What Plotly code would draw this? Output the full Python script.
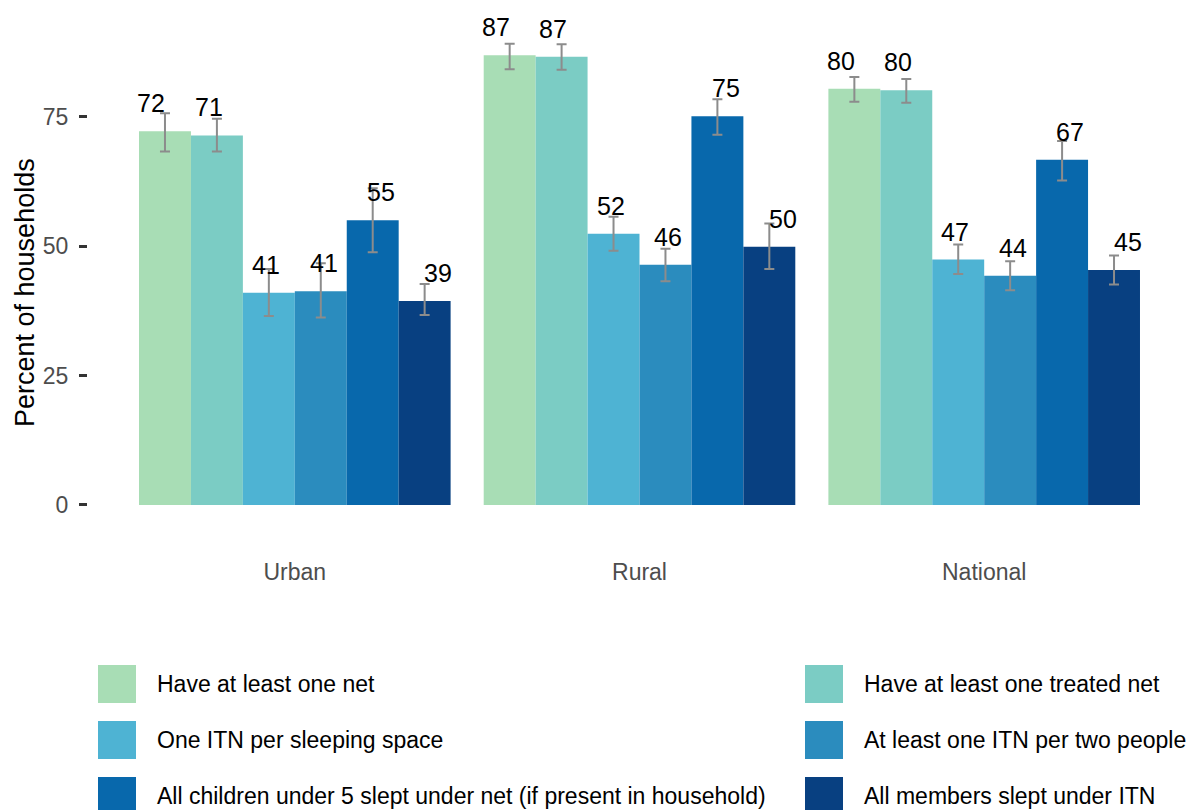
import plotly.graph_objects as go

# ---------------- data ----------------
groups = ["Urban", "Rural", "National"]
series = [
    "Have at least one net",
    "Have at least one treated net",
    "One ITN per sleeping space",
    "At least one ITN per two people",
    "All children under 5 slept under net (if present in household)",
    "All members slept under ITN",
]
colors = ["#A8DDB5", "#7BCCC4", "#4EB3D3", "#2B8CBE", "#0868AC", "#084081"]

# values per series: [Urban, Rural, National]
values = [
    [72.2, 86.9, 80.4],
    [71.4, 86.6, 80.1],
    [41.0, 52.4, 47.4],
    [41.3, 46.4, 44.3],
    [55.0, 75.1, 66.7],
    [39.4, 49.9, 45.4],
]
ci_low = [
    [68.3, 84.2, 77.9],
    [68.3, 84.1, 77.7],
    [36.5, 49.1, 44.6],
    [36.2, 43.2, 41.5],
    [48.8, 71.5, 62.7],
    [36.7, 45.6, 42.6],
]
ci_high = [
    [75.7, 89.1, 82.7],
    [74.6, 89.0, 82.3],
    [45.6, 55.7, 50.3],
    [46.7, 49.5, 47.1],
    [61.2, 78.4, 70.3],
    [42.7, 54.4, 48.2],
]
y_ticks = [0, 25, 50, 75]
y_title = "Percent of households"

# ---------------- layout constants ----------------
OFF = 8  # page body margin in the browser
W, H = 1199 - OFF, 810 - OFF
ML, MR, MT, MB = 80, 8, 13, 282
PW = W - ML - MR
PH = H - MT - MB
FONT = "Liberation Sans, Arial, sans-serif"
n = len(series)
xpos = list(range(len(groups)))

fig = go.Figure()
for i, name in enumerate(series):
    fig.add_trace(go.Bar(
        x=xpos, y=values[i], name=name,
        marker=dict(color=colors[i], line=dict(width=0)),
        error_y=dict(
            type="data", symmetric=False,
            array=[h - v for h, v in zip(ci_high[i], values[i])],
            arrayminus=[v - l for v, l in zip(values[i], ci_low[i])],
            color="#8C8C8C", thickness=2, width=5,
        ),
        showlegend=False,
    ))

# data labels (dodged over full category width, as in source)
annotations = []
for i in range(n):
    for g in xpos:
        annotations.append(dict(
            x=g + (i - (n - 1) / 2) / n, y=values[i][g],
            xref="x", yref="y", text=str(round(values[i][g])),
            showarrow=False, yanchor="bottom", yshift=12,
            font=dict(family=FONT, size=25, color="#000000"),
        ))

def px_to_paper_x(px):
    return (px - OFF - ML) / PW

def px_to_paper_y(py):
    return (H - MB - (py - OFF)) / PH

# y-axis title
annotations.append(dict(
    x=px_to_paper_x(25), y=px_to_paper_y(293), xref="paper", yref="paper",
    text=y_title, textangle=-90, showarrow=False,
    xanchor="center", yanchor="middle",
    font=dict(family=FONT, size=27, color="#000000"),
))

# manual legend with large swatches (two columns, row-major)
shapes = []
col_swatch_x = [98, 805]
col_text_x = [155, 862]
row_center_y = [684, 740, 796]
sw = 38
for i, name in enumerate(series):
    c, r = i % 2, i // 2
    x0 = col_swatch_x[c]
    yc = row_center_y[r]
    shapes.append(dict(
        type="rect", xref="paper", yref="paper",
        x0=px_to_paper_x(x0), x1=px_to_paper_x(x0 + sw),
        y0=px_to_paper_y(yc + sw / 2), y1=px_to_paper_y(yc - sw / 2),
        fillcolor=colors[i], line=dict(width=0),
    ))
    annotations.append(dict(
        x=px_to_paper_x(col_text_x[c]), y=px_to_paper_y(yc),
        xref="paper", yref="paper", text=name, showarrow=False,
        xanchor="left", yanchor="middle",
        font=dict(family=FONT, size=23, color="#000000"),
    ))

fig.update_layout(
    width=W, height=H,
    margin=dict(l=ML, r=MR, t=MT, b=MB),
    barmode="group", bargap=0.096, bargroupgap=0,
    plot_bgcolor="white", paper_bgcolor="white",
    annotations=annotations, shapes=shapes,
    font=dict(family=FONT),
    showlegend=False,
)
fig.update_xaxes(
    range=[-0.6, 2.6], tickmode="array", tickvals=xpos, ticktext=groups,
    showgrid=False, zeroline=False, showline=False, ticks="",
    tickfont=dict(family=FONT, size=23, color="#4D4D4D"),
    ticklabelstandoff=28,
)
fig.update_yaxes(
    range=[-4.45, 93.5], tickmode="array", tickvals=y_ticks,
    showgrid=False, zeroline=False, showline=False,
    ticks="outside", ticklen=8, tickwidth=3, tickcolor="#333333",
    tickfont=dict(family=FONT, size=23, color="#4D4D4D"),
    ticklabelstandoff=6,
)

fig.write_html("out.html")
